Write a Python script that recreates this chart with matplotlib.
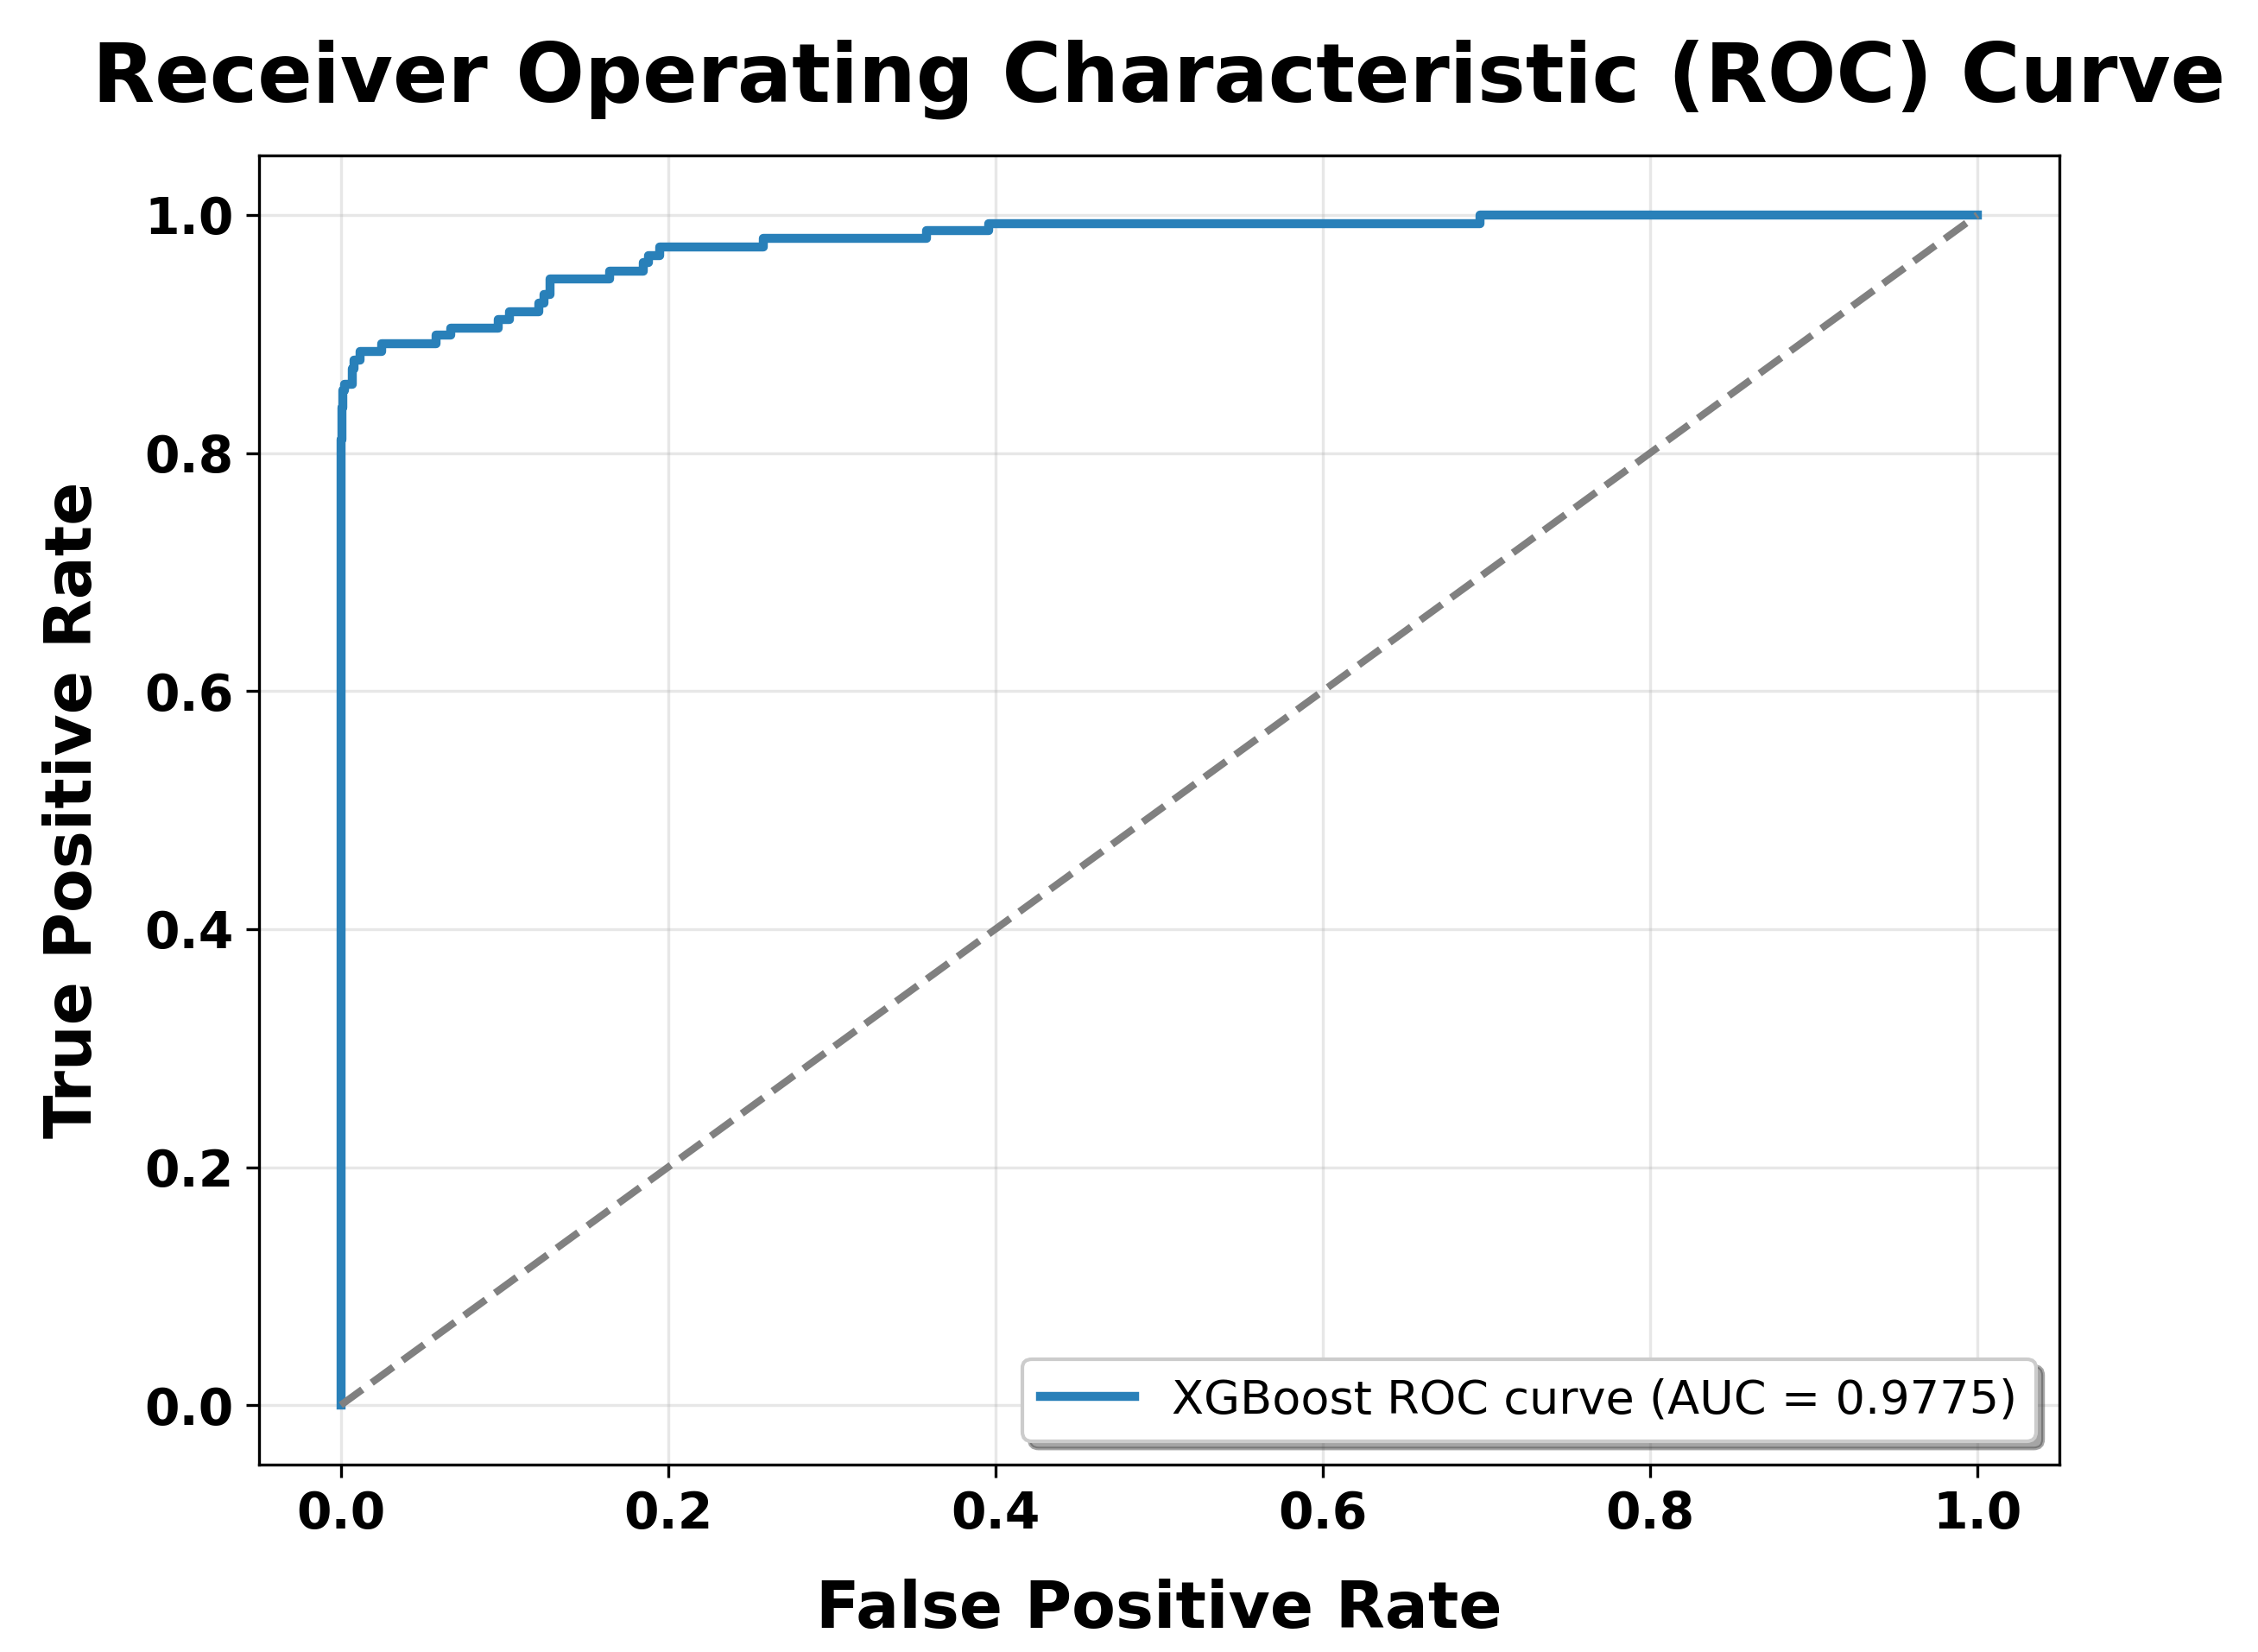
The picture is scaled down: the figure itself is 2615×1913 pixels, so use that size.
import numpy as np
from matplotlib import pyplot as plt

# ROC curve points (fpr, tpr)
fpr = [0.0, 0.0, 0.0005, 0.0005, 0.0012, 0.0012, 0.0020, 0.0020, 0.0068, 0.0068,
       0.0082, 0.0082, 0.0120, 0.0120, 0.0250, 0.0250, 0.0580, 0.0580, 0.0670,
       0.0670, 0.0960, 0.0960, 0.1030, 0.1030, 0.1210, 0.1210, 0.1240, 0.1240,
       0.1280, 0.1280, 0.1640, 0.1640, 0.1850, 0.1850, 0.1880, 0.1880, 0.1950,
       0.1950, 0.2580, 0.2580, 0.3580, 0.3580, 0.3960, 0.3960, 0.6960, 0.6960, 1.0]
tpr = [0.0, 0.811, 0.811, 0.838, 0.838, 0.853, 0.853, 0.858, 0.858, 0.871,
       0.871, 0.878, 0.878, 0.885, 0.885, 0.892, 0.892, 0.899, 0.899,
       0.905, 0.905, 0.912, 0.912, 0.919, 0.919, 0.926, 0.926, 0.933,
       0.933, 0.946, 0.946, 0.953, 0.953, 0.960, 0.960, 0.966, 0.966,
       0.973, 0.973, 0.980, 0.980, 0.987, 0.987, 0.993, 0.993, 1.0, 1.0]
roc_auc = 0.9775
ticks = [0.0, 0.2, 0.4, 0.6, 0.8, 1.0]

fig = plt.figure(figsize=(2615 / 300, 1913 / 300), dpi=300)
ax = fig.add_axes([0.1147, 0.1134, 0.7973, 0.7925])

ax.plot(fpr, tpr, color='#2980b9', lw=2.5,
        label='XGBoost ROC curve (AUC = %.4f)' % roc_auc)
ax.plot([0, 1], [0, 1], color='gray', lw=2, linestyle='--')

ax.set_xlim(-0.05, 1.05)
ax.set_ylim(-0.05, 1.05)
ax.set_xticks(ticks)
ax.set_yticks(ticks)
for lbl in ax.get_xticklabels() + ax.get_yticklabels():
    lbl.set_fontweight('bold')
    lbl.set_fontsize(14)

ax.set_xlabel('False Positive Rate', fontsize=17.8, fontweight='bold', labelpad=11)
ax.set_ylabel('True Positive Rate', fontsize=17.8, fontweight='bold', labelpad=11)
ax.set_title('Receiver Operating Characteristic (ROC) Curve', fontsize=22.5,
             fontweight='bold', pad=15)
ax.grid(True, alpha=0.3)
ax.legend(loc='lower right', fontsize=13, shadow=True, fancybox=True)

plt.savefig('out.png', dpi=300)
